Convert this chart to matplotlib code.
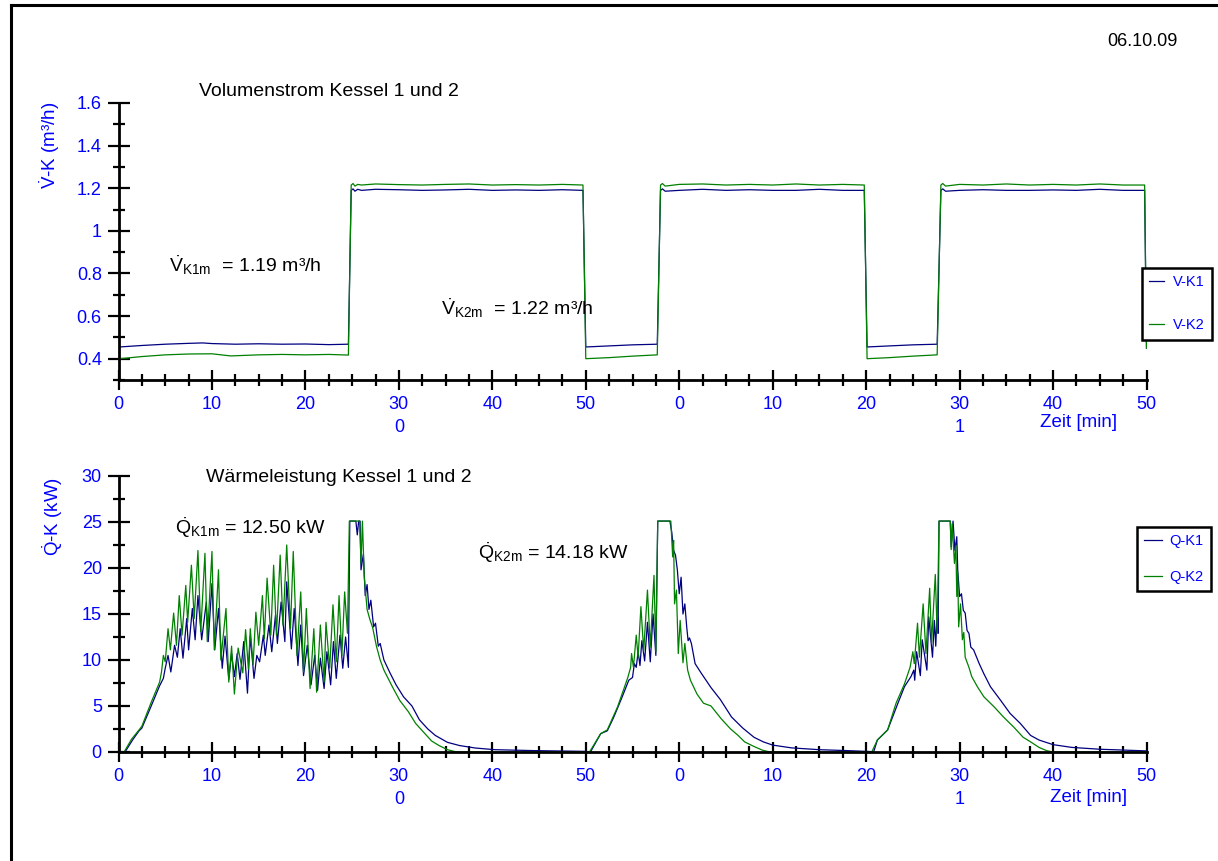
import matplotlib
matplotlib.use("Agg")
import matplotlib.pyplot as plt
from matplotlib.lines import Line2D
from matplotlib.ticker import MultipleLocator

# Fonts: Arial-like text, upright letters in the math parts (dot accents)
plt.rcParams['font.family'] = ['Liberation Sans', 'DejaVu Sans']
plt.rcParams['mathtext.fontset'] = 'custom'
plt.rcParams['mathtext.rm'] = 'Liberation Sans'
plt.rcParams['mathtext.it'] = 'Liberation Sans'
plt.rcParams['mathtext.bf'] = 'Liberation Sans:bold'

BLUE_TXT = '#0000FF'
C_K1 = '#000080'
C_K2 = '#008000'

# time axis: minutes since 0:00, labelled as minute of the hour
tick_minutes = [0, 10, 20, 30, 40, 50, 60, 70, 80, 90, 100, 110]
tick_labels = ['0', '10', '20', '30', '40', '50', '0', '10', '20', '30', '40', '50']
hour_minutes = [30, 90]
hour_labels = ['0', '1']

# Volumenstrom Kessel 1 (m3/h)
t_v1 = [0, 0.1, 2.5, 5, 7.5, 9, 10, 12.5, 15, 17.5, 20, 22.5, 24.6,
        24.9, 25.1, 25.3, 25.6, 26, 27.5, 30, 32.5, 35, 37.5, 40, 42.5, 45, 47.5, 49.7,
        50.0, 52.5, 55, 57.65,
        58.0, 58.2, 58.5, 60, 62.5, 65, 67.5, 70, 72.5, 75, 77.5, 79.8,
        80.1, 82.5, 85, 87.6,
        88.0, 88.2, 88.5, 90, 92.5, 95, 97.5, 100, 102.5, 105, 107.5, 109.8,
        110.0]
v1 = [0.455, 0.455, 0.462, 0.468, 0.472, 0.474, 0.471, 0.468, 0.470, 0.468, 0.469, 0.466, 0.468,
      1.19, 1.197, 1.186, 1.195, 1.19, 1.195, 1.193, 1.19, 1.192, 1.195, 1.19, 1.192, 1.19, 1.193, 1.19,
      0.455, 0.46, 0.465, 0.468,
      1.19, 1.197, 1.186, 1.19, 1.195, 1.19, 1.193, 1.19, 1.19, 1.195, 1.19, 1.19,
      0.455, 0.46, 0.465, 0.468,
      1.19, 1.197, 1.186, 1.19, 1.193, 1.19, 1.19, 1.192, 1.19, 1.195, 1.19, 1.19,
      0.45]

# Volumenstrom Kessel 2 (m3/h)
t_v2 = [0, 0.15, 2.5, 5, 7.5, 10, 12, 15, 17.5, 20, 22.5, 24.6,
        24.9, 25.1, 25.3, 25.6, 26, 27.5, 30, 32.5, 35, 37.5, 40, 42.5, 45, 47.5, 49.7,
        50.0, 52.5, 55, 57.65,
        58.0, 58.2, 58.5, 60, 62.5, 65, 67.5, 70, 72.5, 75, 77.5, 79.8,
        80.1, 82.5, 85, 87.6,
        88.0, 88.2, 88.5, 90, 92.5, 95, 97.5, 100, 102.5, 105, 107.5, 109.8,
        110.0]
v2 = [0.44, 0.40, 0.41, 0.418, 0.422, 0.423, 0.413, 0.418, 0.42, 0.418, 0.42, 0.417,
      1.215, 1.222, 1.21, 1.218, 1.215, 1.22, 1.217, 1.215, 1.218, 1.22, 1.215, 1.217, 1.215, 1.218, 1.215,
      0.40, 0.405, 0.412, 0.418,
      1.215, 1.222, 1.21, 1.218, 1.22, 1.215, 1.218, 1.215, 1.22, 1.215, 1.218, 1.215,
      0.40, 0.405, 0.412, 0.418,
      1.215, 1.222, 1.21, 1.218, 1.215, 1.22, 1.215, 1.218, 1.215, 1.22, 1.215, 1.215,
      0.45]

# Waermeleistung Kessel 1 (kW)
t_q1 = [0, 0.7, 1.5, 2.2, 2.5, 3.5, 4.4, 4.8,
        5.0, 5.3, 5.6, 6.0, 6.3, 6.6, 6.9, 7.3, 7.5, 7.9, 8.2, 8.5, 8.9, 9.4, 9.6, 10.0,
        10.3, 10.7, 11.1, 11.4, 11.8, 12.1, 12.4, 12.7, 13.0, 13.4, 13.8, 14.1, 14.5, 14.8,
        15.1, 15.5, 15.7, 16.1, 16.4, 16.8, 17.0, 17.4, 17.8, 18.0, 18.5, 18.8, 19.2, 19.5,
        19.8, 20.2, 20.6, 21.0, 21.3, 21.6, 22.0, 22.3, 22.7, 23.0, 23.3, 23.7, 24.0, 24.3, 24.6,
        24.75, 25.4, 25.55, 25.7, 25.85, 25.95, 26.2, 26.4, 26.6, 26.8, 27.0, 27.3, 27.5,
        27.8, 28.0, 28.4, 29.05, 29.7, 30.5, 31.4, 32.2, 33.1, 33.9, 35.2, 36.5, 38.2,
        40.3, 44.5, 50.0, 50.5,
        51.6, 52.3, 53.0, 53.9, 54.6, 55.0, 55.2, 55.4, 55.6, 55.8, 56.0, 56.3, 56.6, 56.9,
        57.2, 57.5, 57.7, 59.0, 59.2, 59.4, 59.6, 59.8, 60.0, 60.2, 60.4, 60.6, 60.8, 60.95,
        61.1, 61.3, 61.7, 62.4, 63.4, 64.4, 65.6, 66.8, 68.0, 69.0, 70.0, 72.0, 75.0, 78.0,
        80.5, 80.8,
        81.2, 82.3, 83.4, 84.1, 84.8, 85.1, 85.2, 85.4, 85.8, 86.0, 86.5, 86.7, 87.1, 87.3,
        87.45, 87.6, 87.7, 87.8, 89.0, 89.1, 89.3, 89.5, 89.7, 89.8, 90.0, 90.2, 90.4, 90.6,
        90.8, 91.0, 91.2, 91.5, 92.1, 92.6, 93.3, 94.4, 95.4, 96.5, 97.6, 98.5, 100, 102,
        105, 110]
q1 = [0, 0, 1.3, 2.3, 2.6, 5.0, 7.2, 8.0,
      9.1, 10.5, 8.7, 11.6, 10.3, 13.4, 10.2, 14.5, 11.1, 15.6, 12.2, 17.0, 12.2, 16.3, 12.0, 18.3,
      11.1, 15.6, 9.1, 12.6, 7.9, 10.7, 8.2, 10.7, 7.9, 12.0, 6.4, 12.6, 8.0, 10.5,
      9.8, 12.7, 10.5, 13.8, 10.9, 14.9, 11.8, 16.3, 12.0, 18.5, 11.2, 15.6, 9.4, 13.8,
      8.3, 11.6, 7.3, 10.5, 6.7, 10.2, 6.9, 10.9, 7.3, 12.0, 8.0, 12.7, 9.1, 12.5, 9.2,
      25.1, 25.1, 23.6, 25.1, 25.1, 19.8, 21.5, 17.0, 18.2, 15.5, 16.5, 13.6, 14.0,
      11.5, 11.8, 10.0, 8.6, 7.3, 6.0, 5.0, 3.5, 2.5, 1.8, 1.05, 0.7, 0.43,
      0.25, 0.15, 0.07, 0.0,
      2.0, 2.3, 3.8, 6.0, 7.8, 8.1, 9.6, 9.2, 10.9, 9.4, 12.1, 9.9, 14.1, 9.8,
      15.0, 10.5, 25.1, 25.1, 23.9, 21.9, 21.4, 19.8, 17.2, 19.0, 15.0, 16.1, 13.6, 12.1,
      12.4, 11.8, 9.6, 8.5, 7.0, 5.7, 3.8, 2.6, 1.6, 1.1, 0.75, 0.45, 0.25, 0.15,
      0.05, 0.0,
      1.3, 2.4, 5.3, 7.1, 8.2, 8.9, 7.8, 10.9, 8.3, 12.2, 8.9, 14.7, 10.3, 14.3,
      11.5, 15.4, 12.9, 25.1, 25.1, 22.3, 25.1, 21.9, 23.4, 19.8, 16.9, 17.2, 15.4, 15.1,
      13.2, 12.9, 11.4, 11.1, 9.6, 8.5, 7.1, 5.6, 4.2, 3.1, 1.8, 1.3, 0.8, 0.5,
      0.3, 0.12]

# Waermeleistung Kessel 2 (kW)
t_q2 = [0, 0.6, 1.4, 2.2, 2.5, 3.5, 4.4, 4.6,
        4.8, 5.0, 5.3, 5.55, 5.9, 6.2, 6.5, 6.8, 7.2, 7.4, 7.8, 8.1, 8.5, 8.8, 9.25, 9.5,
        10.0, 10.25, 10.7, 10.95, 11.5, 11.8, 12.1, 12.4, 12.8, 13.3, 13.6, 13.9, 14.1, 14.4,
        14.7, 15.0, 15.4, 15.6, 15.9, 16.3, 16.6, 16.9, 17.3, 17.6, 18.0, 18.4, 18.7, 19.1,
        19.5, 19.8, 20.1, 20.5, 20.9, 21.2, 21.6, 22.0, 22.2, 22.6, 22.95, 23.3, 23.6, 23.9,
        24.2, 24.5, 24.7, 25.8, 25.95, 26.1, 26.3, 26.6, 26.9, 27.2, 27.6, 28.0, 28.4, 29.3,
        30.1, 31.0, 31.8, 32.7, 33.5, 34.3, 35.2, 36.0, 36.5, 50.4,
        51.6, 52.3, 53.4, 54.5, 54.8, 54.9, 55.1, 55.4, 55.6, 55.9, 56.2, 56.6, 56.9, 57.3,
        57.5, 57.7, 59.1, 59.3, 59.4, 59.5, 59.7, 59.9, 60.1, 60.4, 60.6, 60.9, 61.2, 61.9,
        62.6, 63.4, 64.5, 65.5, 66.3, 67.0, 68.0, 68.9, 69.5, 70.0, 80.6,
        81.2, 82.3, 83.2, 84.1, 84.7, 85.0, 85.15, 85.5, 85.7, 86.1, 86.4, 86.8, 87.0, 87.4,
        87.6, 87.8, 89.0, 89.1, 89.2, 89.45, 89.6, 89.7, 89.8, 89.9, 90.1, 90.3, 90.45, 90.6,
        91.0, 91.3, 91.9, 92.6, 93.7, 94.7, 95.8, 96.8, 97.6, 98.5, 99.3, 100, 110]
q2 = [0, 0, 1.4, 2.4, 2.8, 5.4, 7.6, 8.7,
      10.5, 9.8, 13.4, 11.1, 15.1, 11.6, 17.0, 12.7, 18.1, 14.1, 20.3, 14.5, 21.9, 13.1, 21.6, 12.0,
      21.8, 11.1, 19.8, 10.0, 15.6, 7.6, 11.5, 6.3, 11.3, 8.6, 13.3, 9.0, 13.4, 9.5,
      15.2, 11.6, 17.0, 12.3, 18.9, 12.7, 20.3, 12.7, 21.4, 13.8, 22.5, 13.4, 21.8, 10.5,
      17.4, 8.7, 15.6, 6.9, 13.4, 6.5, 13.8, 7.6, 14.1, 9.1, 16.0, 9.8, 17.0, 10.5,
      17.4, 12.9, 25.1, 25.1, 20.5, 25.1, 19.0, 15.5, 14.4, 13.5, 11.5, 10.0, 8.9, 7.1,
      5.6, 4.4, 3.1, 2.1, 1.2, 0.7, 0.25, 0.05, 0, 0,
      2.0, 2.4, 4.9, 8.1, 9.2, 10.7, 9.2, 12.7, 10.3, 15.8, 11.0, 17.6, 11.4, 19.2,
      10.9, 25.1, 25.1, 21.2, 23.0, 16.1, 17.6, 10.7, 14.3, 9.7, 11.8, 8.9, 7.8, 6.3,
      5.3, 5.0, 3.6, 2.5, 1.8, 1.1, 0.6, 0.2, 0.05, 0, 0,
      1.3, 2.4, 5.3, 7.4, 9.2, 10.9, 9.6, 14.0, 10.3, 16.1, 10.7, 17.8, 11.8, 19.3,
      12.9, 25.1, 25.1, 22.0, 24.8, 20.5, 22.5, 16.9, 19.5, 13.6, 16.1, 12.2, 13.0, 10.3,
      9.2, 8.2, 7.1, 6.0, 4.9, 3.8, 2.7, 1.6, 1.1, 0.5, 0.15, 0, 0]

fig = plt.figure(figsize=(12.18, 8.61), dpi=100)

# frame line on the left and top of the page
fig.add_artist(Line2D([11 / 1218, 11 / 1218], [0, 1 - 5 / 861], color='black', lw=2.2,
                      transform=fig.transFigure))
fig.add_artist(Line2D([11 / 1218, 1], [1 - 5 / 861, 1 - 5 / 861], color='black', lw=2.2,
                      transform=fig.transFigure))

ax1 = fig.add_axes([118.5 / 1218, 1 - 380 / 861, 1028 / 1218, 277 / 861])
ax2 = fig.add_axes([118.5 / 1218, 1 - 752 / 861, 1028 / 1218, 276 / 861])


def style_axis(ax, ymin, ymax, ymajor, yminor):
    ax.set_xlim(0, 110)
    ax.set_ylim(ymin, ymax)
    for side in ['top', 'right']:
        ax.spines[side].set_visible(False)
    for side in ['left', 'bottom']:
        ax.spines[side].set_linewidth(2.0)
        ax.spines[side].set_color('black')
    ax.set_xticks(tick_minutes)
    ax.set_xticklabels(tick_labels)
    ax.xaxis.set_minor_locator(MultipleLocator(2.5))
    ax.yaxis.set_major_locator(MultipleLocator(ymajor))
    ax.yaxis.set_minor_locator(MultipleLocator(yminor))
    ax.tick_params(axis='x', which='major', direction='inout', length=15, width=1.6,
                   labelsize=13, labelcolor=BLUE_TXT, pad=4)
    ax.tick_params(axis='x', which='minor', direction='inout', length=8, width=1.6)
    ax.tick_params(axis='y', which='major', direction='inout', length=16, width=1.6,
                   labelsize=13, labelcolor=BLUE_TXT, pad=4)
    ax.tick_params(axis='y', which='minor', direction='inout', length=8.5, width=1.6)
    # hour numbers under the half-hour ticks
    for m, h in zip(hour_minutes, hour_labels):
        ax.annotate(h, xy=(m, 0), xycoords=('data', 'axes fraction'),
                    xytext=(0, -34), textcoords='offset points',
                    ha='center', va='center', fontsize=13, color=BLUE_TXT,
                    annotation_clip=False)


# --- Volumenstrom ---
style_axis(ax1, 0.3, 1.6, 0.2, 0.1)
ax1.set_yticks([0.4, 0.6, 0.8, 1.0, 1.2, 1.4, 1.6])
ax1.set_yticklabels(['0.4', '0.6', '0.8', '1', '1.2', '1.4', '1.6'])
ax1.plot(t_v1, v1, color=C_K1, lw=0.9, label='V-K1')
ax1.plot(t_v2, v2, color=C_K2, lw=0.9, label='V-K2')

ax1.text(8.6, 1.652, 'Volumenstrom Kessel 1 und 2', fontsize=14, va='center')
ax1.text(5.4, 0.84, r'$\dot{V}_{\mathrm{K1m}}$  = 1.19 m³/h', fontsize=14, va='center')
ax1.text(34.5, 0.638, r'$\dot{V}_{\mathrm{K2m}}$  = 1.22 m³/h', fontsize=14, va='center')

leg1 = ax1.legend(loc='upper left', bbox_to_anchor=(1142 / 1218, 1 - 268 / 861),
                  bbox_transform=fig.transFigure, fontsize=10.5, labelcolor=BLUE_TXT,
                  fancybox=False, edgecolor='black', framealpha=1, handlelength=1.0,
                  handletextpad=0.6, labelspacing=2.0, borderpad=0.5, borderaxespad=0)
leg1.get_frame().set_linewidth(1.8)

# --- Waermeleistung ---
style_axis(ax2, 0, 30, 5, 2.5)
ax2.plot(t_q1, q1, color=C_K1, lw=0.9, label='Q-K1')
ax2.plot(t_q2, q2, color=C_K2, lw=0.9, label='Q-K2')

ax2.text(9.4, 29.8, 'Wärmeleistung Kessel 1 und 2', fontsize=14, va='center')
ax2.text(6.0, 24.4, r'$\dot{Q}_{\mathrm{K1m}}$ = 12.50 kW', fontsize=14, va='center')
ax2.text(38.5, 21.7, r'$\dot{Q}_{\mathrm{K2m}}$ = 14.18 kW', fontsize=14, va='center')

leg2 = ax2.legend(loc='upper left', bbox_to_anchor=(1137 / 1218, 1 - 527 / 861),
                  bbox_transform=fig.transFigure, fontsize=10.5, labelcolor=BLUE_TXT,
                  fancybox=False, edgecolor='black', framealpha=1, handlelength=1.2,
                  handletextpad=0.5, labelspacing=1.5, borderpad=0.5, borderaxespad=0)
leg2.get_frame().set_linewidth(1.8)

# axis titles placed like the recorder printout
fig.text(50 / 1218, 1 - 145 / 861, r'$\dot{\mathrm{V}}$-K (m³/h)', rotation=90,
         ha='center', va='center', fontsize=13.5, color=BLUE_TXT)
fig.text(53 / 1218, 1 - 517 / 861, r'$\dot{\mathrm{Q}}$-K (kW)', rotation=90,
         ha='center', va='center', fontsize=13.5, color=BLUE_TXT)
fig.text(1040 / 1218, 1 - 423 / 861, 'Zeit [min]', ha='left', va='center',
         fontsize=13.5, color=BLUE_TXT)
fig.text(1050 / 1218, 1 - 798 / 861, 'Zeit [min]', ha='left', va='center',
         fontsize=13.5, color=BLUE_TXT)

# date stamp
fig.text(1142 / 1218, 1 - 41 / 861, '06.10.09', ha='center', va='center', fontsize=13)

fig.savefig('out.png', dpi=100)
